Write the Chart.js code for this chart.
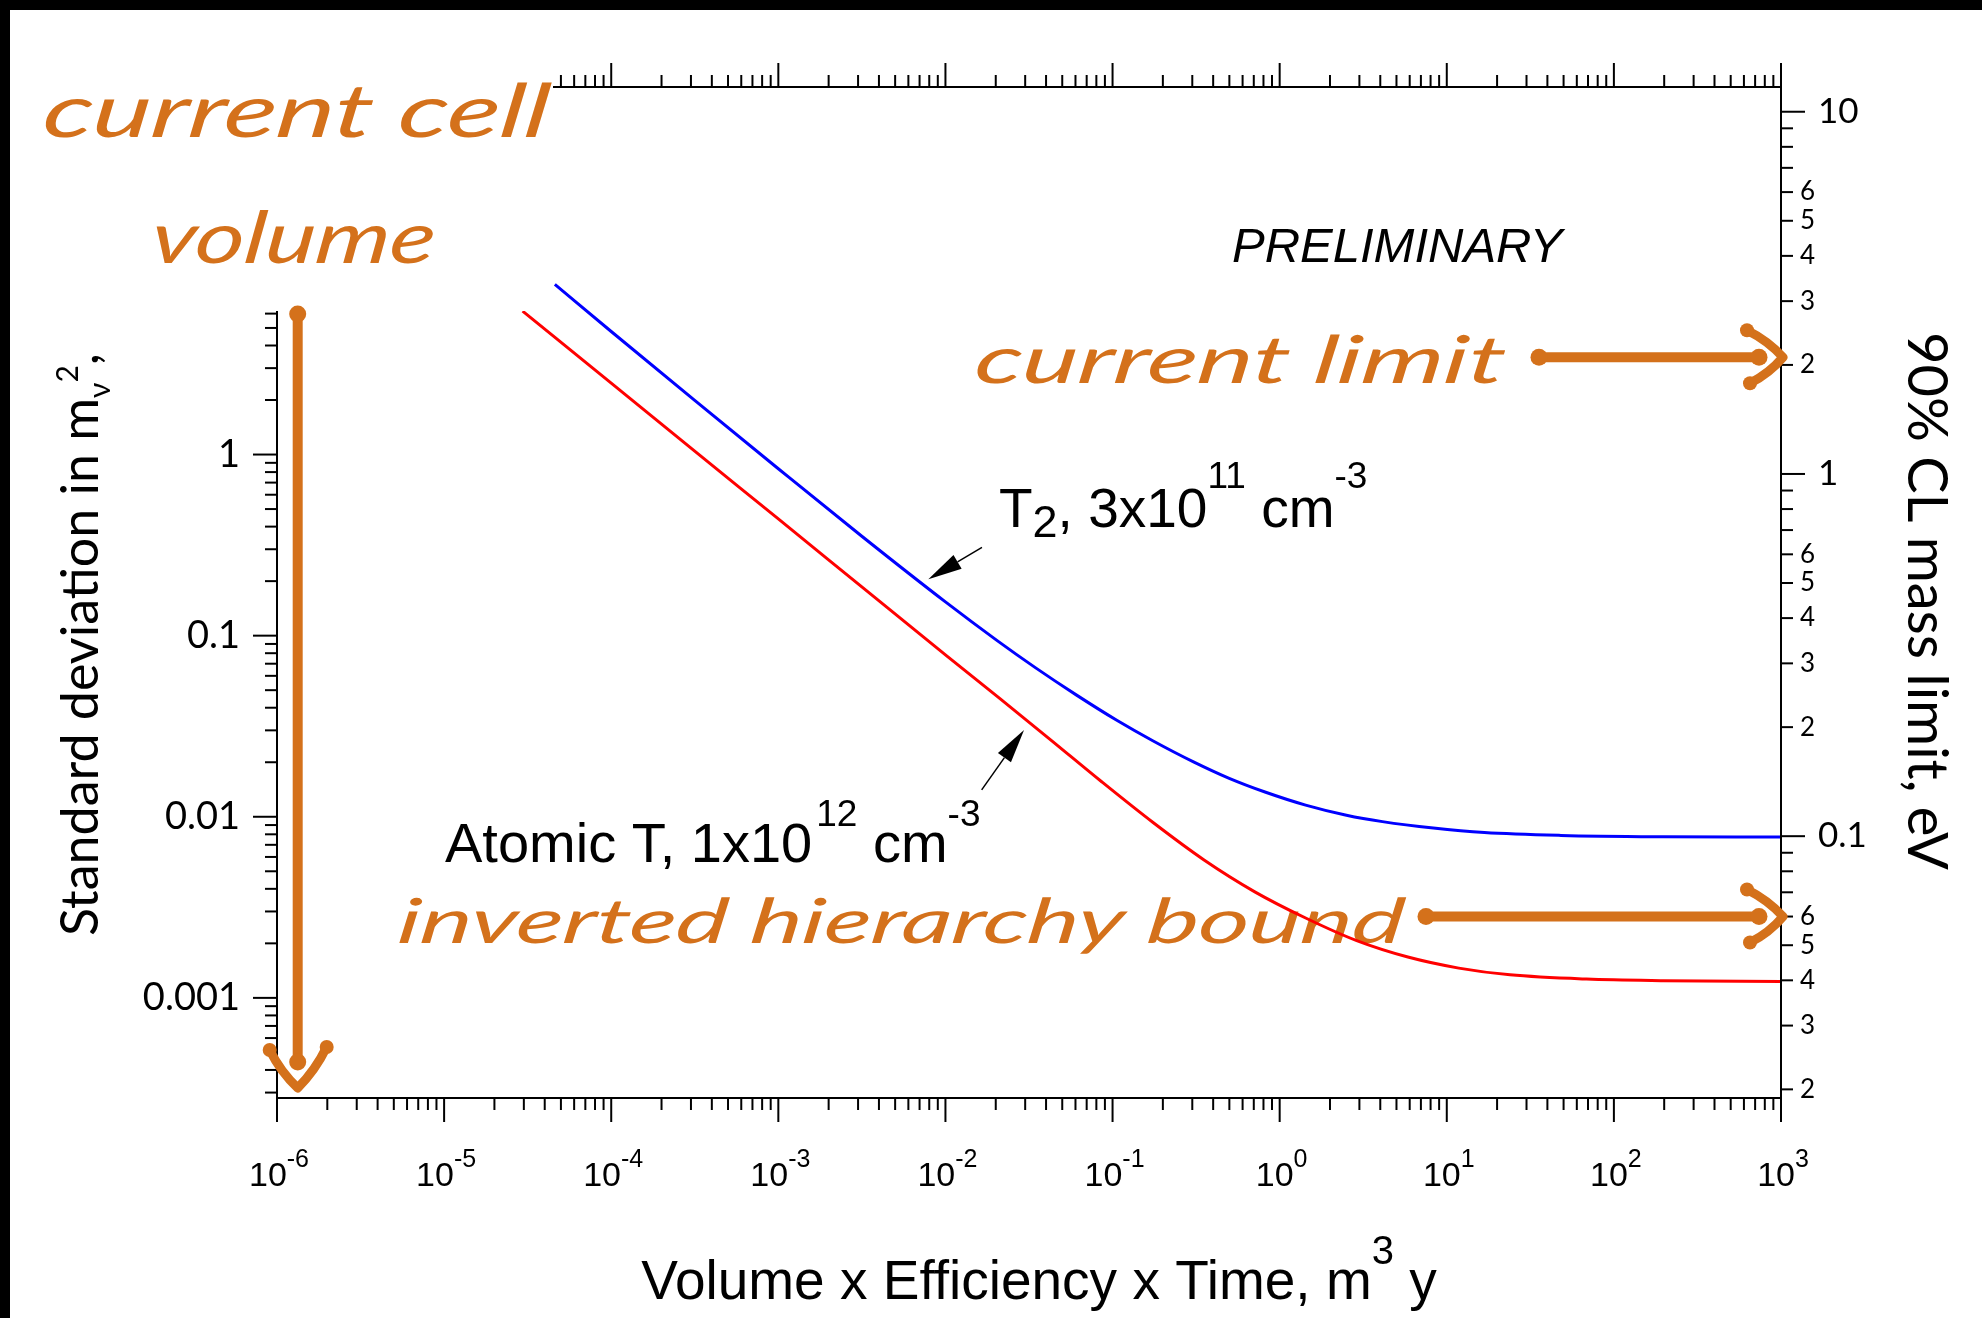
<!DOCTYPE html>
<html>
<head>
<meta charset="utf-8">
<title>Neutrino mass sensitivity vs exposure</title>
<script src="https://cdn.jsdelivr.net/npm/chart.js@4.4.1/dist/chart.umd.min.js"></script>
<style>
  html, body { margin: 0; padding: 0; background: #000; overflow: hidden; }
  #wrap { position: absolute; left: 10px; top: 10px; width: 1972px; height: 1308px; background: #fff; }
</style>
</head>
<body>
<div id="wrap"><canvas id="chart" width="1972" height="1308"></canvas></div>
<script>
// exposure (m^3 y) and standard deviation in m_nu^2 for the two source types
const t2Exposure = [4.6e-5, 1e-4, 3.16e-4, 1e-3, 3.16e-3, 0.01, 0.0204, 0.0345, 0.0606, 0.106, 0.174,
                    0.305, 0.499, 0.817, 1.43, 2.51, 4.12, 8.31, 16.8, 48.2, 197, 1000];
const t2Sigma = [8.7, 4.78, 1.99, 0.835, 0.354, 0.1536, 0.0939, 0.0666, 0.0471, 0.0341, 0.0263,
                 0.0201, 0.0163, 0.0137, 0.0116, 0.0102, 0.0094, 0.00866, 0.00818, 0.00789, 0.00776, 0.00773];

const atomicExposure = [2.95e-5, 1e-4, 3.16e-4, 1e-3, 3.16e-3, 0.01, 0.0212, 0.0426, 0.0861, 0.174,
                        0.351, 0.710, 1.43, 2.89, 5.85, 11.8, 23.9, 68.5, 197, 1000];
const atomicSigma = [6.19, 2.48, 1.045, 0.441, 0.186, 0.0784, 0.0449, 0.0266, 0.0156, 0.00932,
                     0.00579, 0.00385, 0.00276, 0.00207, 0.00168, 0.00146, 0.00134, 0.00127, 0.001245, 0.00123];

// axis ranges
const exposureRange = [1e-6, 1e3];
const sigmaRange = [2.8e-4, 107];
const clFactor = 1.28;                // 90% CL: m^2 < 1.28 sigma
const massRange = sigmaRange.map(s => Math.sqrt(clFactor * s));

// tick labels
const exposureDecades = [-6, -5, -4, -3, -2, -1, 0, 1, 2, 3];
const sigmaTicks = [1, 0.1, 0.01, 0.001];
const sigmaTickLabels = ['1', '0.1', '0.01', '0.001'];
const massTicks = [10, 1, 0.1];
const massTickLabels = ['10', '1', '0.1'];
const massMinorLabelled = [2, 3, 4, 5, 6];

// hand-drawn notes (eV on the right axis, m^3 y on the bottom axis)
const currentLimit = 2.1;
const invertedBound = 0.06;
const cellVolume = 1.33e-6;

const orange = '#d4711b';
const MAJOR = 24, MINOR = 12;

function logTicks(min, max) {
  const out = [];
  for (let e = Math.floor(Math.log10(min)); e <= Math.ceil(Math.log10(max)); e++) {
    for (let m = 1; m <= 9; m++) {
      const v = m * Math.pow(10, e);
      if (v >= min * 0.9999 && v <= max * 1.0001) out.push({ v, m });
    }
  }
  return out;
}

// draw [text, font, dy] pieces one after another
function runsWidth(ctx, runs) {
  let w = 0;
  for (const [t, f] of runs) { ctx.font = f; w += ctx.measureText(t).width; }
  return w;
}
function drawRuns(ctx, runs, x, y) {
  ctx.textAlign = 'left';
  ctx.textBaseline = 'alphabetic';
  for (const [t, f, dy] of runs) {
    ctx.font = f;
    ctx.fillText(t, x, y + (dy || 0));
    x += ctx.measureText(t).width;
  }
  return x;
}

// slanted marker-pen text squeezed to a given width
function handText(ctx, text, x, y, size, width) {
  ctx.save();
  ctx.font = `italic 400 ${size}px Lato`;
  const w = ctx.measureText(text).width;
  ctx.translate(x, y);
  ctx.transform(1, 0, -0.12, 1, 0, 0);
  ctx.scale(width / w, 1);
  ctx.fillStyle = orange;
  ctx.textAlign = 'left';
  ctx.textBaseline = 'alphabetic';
  ctx.fillText(text, 0, 0);
  ctx.restore();
}

function blob(ctx, x, y, r) {
  ctx.beginPath();
  ctx.arc(x, y, r, 0, Math.PI * 2);
  ctx.fill();
}

// thick marker arrow; dir = 'right' or 'down'
function handArrow(ctx, x0, y0, tx, ty, dir) {
  ctx.save();
  ctx.strokeStyle = orange;
  ctx.fillStyle = orange;
  ctx.lineCap = 'round';
  ctx.lineJoin = 'round';
  ctx.lineWidth = 10;
  let ex, ey, arms;
  if (dir === 'right') {
    ex = tx - 24; ey = ty;
    arms = [[tx - 36, ty - 27], [tx - 33, ty + 26]];
  } else {
    ex = tx; ey = ty - 26;
    arms = [[tx - 28, ty - 38], [tx + 29, ty - 41]];
  }
  ctx.beginPath();
  ctx.moveTo(x0, y0);
  ctx.lineTo(ex, ey);
  ctx.stroke();
  blob(ctx, x0, y0, 8.5);
  blob(ctx, ex, ey, 8.5);
  ctx.lineWidth = 9;
  const bend = dir === 'right' ? [3, -3] : [-3, 3];
  ctx.beginPath();
  ctx.moveTo(arms[0][0], arms[0][1]);
  ctx.quadraticCurveTo((arms[0][0] + tx) / 2 + bend[0], (arms[0][1] + ty) / 2 + bend[1], tx, ty);
  ctx.quadraticCurveTo((arms[1][0] + tx) / 2 + 3, (arms[1][1] + ty) / 2 + 3, arms[1][0], arms[1][1]);
  ctx.stroke();
  blob(ctx, arms[0][0], arms[0][1], 7);
  blob(ctx, arms[1][0], arms[1][1], 7);
  ctx.restore();
}

function pointer(ctx, x0, y0, x1, y1) {
  const ang = Math.atan2(y1 - y0, x1 - x0);
  const L = 34, W = 8;
  const bx = x1 - L * Math.cos(ang), by = y1 - L * Math.sin(ang);
  ctx.beginPath();
  ctx.moveTo(x0, y0);
  ctx.lineTo(bx, by);
  ctx.lineWidth = 1.5;
  ctx.stroke();
  ctx.beginPath();
  ctx.moveTo(x1, y1);
  ctx.lineTo(bx + W * Math.sin(ang), by - W * Math.cos(ang));
  ctx.lineTo(bx - W * Math.sin(ang), by + W * Math.cos(ang));
  ctx.closePath();
  ctx.fill();
}

const figurePlugin = {
  id: 'figure',
  beforeDatasetsDraw(chart) {
    const ctx = chart.ctx;
    handText(ctx, 'current limit', 963, 373, 66, 530);
    handText(ctx, 'inverted hierarchy bound', 386, 933, 62, 1006);
  },
  afterDatasetsDraw(chart) {
    const { ctx, chartArea: a, scales } = chart;
    const x = scales.x, xt = scales.xTop, y = scales.y, m = scales.mass;
    ctx.save();
    ctx.strokeStyle = '#000';
    ctx.fillStyle = '#000';
    ctx.lineWidth = 2;

    // frame
    ctx.strokeRect(a.left, a.top, a.right - a.left, a.bottom - a.top);

    // outward tick marks
    for (const t of logTicks(x.min, x.max)) {
      const p = x.getPixelForValue(t.v), len = t.m === 1 ? MAJOR : MINOR;
      ctx.beginPath(); ctx.moveTo(p, a.bottom); ctx.lineTo(p, a.bottom + len); ctx.stroke();
      const q = xt.getPixelForValue(t.v);
      ctx.beginPath(); ctx.moveTo(q, a.top); ctx.lineTo(q, a.top - len); ctx.stroke();
    }
    for (const t of logTicks(y.min, y.max)) {
      const p = y.getPixelForValue(t.v), len = t.m === 1 ? MAJOR : MINOR;
      ctx.beginPath(); ctx.moveTo(a.left, p); ctx.lineTo(a.left - len, p); ctx.stroke();
    }
    for (const t of logTicks(m.min, m.max)) {
      const p = m.getPixelForValue(t.v), len = t.m === 1 ? MAJOR : MINOR;
      ctx.beginPath(); ctx.moveTo(a.right, p); ctx.lineTo(a.right + len, p); ctx.stroke();
      if (massMinorLabelled.includes(t.m)) {
        ctx.font = '26px Lato';
        ctx.textAlign = 'left';
        ctx.textBaseline = 'middle';
        ctx.fillText(String(t.m), a.right + 19, p);
      }
    }

    // bottom tick labels 10^n
    for (const e of exposureDecades) {
      const p = x.getPixelForValue(Math.pow(10, e));
      const runs = [['10', '34px "Liberation Sans"', 0], [String(e), '25px "Liberation Sans"', -19]];
      drawRuns(ctx, runs, p - runsWidth(ctx, runs) / 2 + 2, 1176);
    }
    // left tick labels
    ctx.font = '38px Lato';
    ctx.textAlign = 'right';
    ctx.textBaseline = 'middle';
    sigmaTicks.forEach((v, i) => ctx.fillText(sigmaTickLabels[i], a.left - 37, y.getPixelForValue(v)));
    // right tick labels
    ctx.font = '35px Lato';
    ctx.textAlign = 'left';
    massTicks.forEach((v, i) => ctx.fillText(massTickLabels[i], a.right + 37, m.getPixelForValue(v)));

    // axis titles
    const xTitle = [['Volume x Efficiency x Time, m', '55px "Liberation Sans"', 0],
                    ['3', '40px "Liberation Sans"', -35],
                    [' y', '55px "Liberation Sans"', 0]];
    drawRuns(ctx, xTitle, (a.left + a.right) / 2 + 10 - runsWidth(ctx, xTitle) / 2, 1289);

    ctx.save();
    ctx.translate(88, 926);
    ctx.rotate(-Math.PI / 2);
    drawRuns(ctx, [['Standard deviation in m', '52px Lato', 0],
                   ['\u03bd', '30px Lato', 12],
                   ['2', '30px Lato', -20],
                   [',', '52px Lato', 0]], 0, 0);
    ctx.restore();

    ctx.save();
    ctx.translate(1898, 591);
    ctx.rotate(Math.PI / 2);
    ctx.font = '56px Lato';
    ctx.textAlign = 'center';
    ctx.textBaseline = 'alphabetic';
    ctx.fillText('90% CL mass limit, eV', 0, 0);
    ctx.restore();

    // in-plot labels
    ctx.font = 'italic 49px "Liberation Sans"';
    ctx.textAlign = 'left';
    ctx.textBaseline = 'alphabetic';
    ctx.fillText('PRELIMINARY', 1222, 252);

    const big = '55px "Liberation Sans"', sup = '37px "Liberation Sans"', sub = '45px "Liberation Sans"';
    drawRuns(ctx, [['T', big, 0], ['2', sub, 10], [', 3x10', big, 0], ['11', sup, -39],
                   [' cm', big, 0], ['-3', sup, -39]], 989, 517);
    const big2 = '56px "Liberation Sans"';
    const end = drawRuns(ctx, [['Atomic T, 1x10', big2, 0]], 435, 852);
    drawRuns(ctx, [['12', sup, -36], [' cm', big2, 0], ['-3', sup, -36]], end + 4, 852);

    pointer(ctx, x.getPixelForValue(0.01654), y.getPixelForValue(0.3075),
                 x.getPixelForValue(0.0079), y.getPixelForValue(0.205));
    pointer(ctx, x.getPixelForValue(0.01647), y.getPixelForValue(0.01407),
                 x.getPixelForValue(0.02954), y.getPixelForValue(0.03017));

    // note box over the top-left corner of the frame
    ctx.fillStyle = '#fff';
    ctx.fillRect(0, 0, 543, 301);
    handText(ctx, 'current cell', 31, 127, 74, 506);
    handText(ctx, 'volume', 139, 253, 72, 284);

    // marker arrows
    const tipX = a.right + 2;
    handArrow(ctx, tipX - 244, m.getPixelForValue(currentLimit), tipX, m.getPixelForValue(currentLimit), 'right');
    handArrow(ctx, tipX - 357, m.getPixelForValue(invertedBound), tipX, m.getPixelForValue(invertedBound), 'right');
    const vx = x.getPixelForValue(cellVolume);
    handArrow(ctx, vx, 304, vx, 1078, 'down');
    ctx.restore();
  }
};

new Chart(document.getElementById('chart'), {
  type: 'line',
  data: {
    datasets: [
      {
        label: 'T2, 3x10^11 cm^-3',
        data: t2Exposure.map((v, i) => ({ x: v, y: t2Sigma[i] })),
        borderColor: '#0000ff',
        borderWidth: 3,
        pointRadius: 0,
        cubicInterpolationMode: 'monotone',
        xAxisID: 'x', yAxisID: 'y'
      },
      {
        label: 'Atomic T, 1x10^12 cm^-3',
        data: atomicExposure.map((v, i) => ({ x: v, y: atomicSigma[i] })),
        borderColor: '#ff0000',
        borderWidth: 3,
        pointRadius: 0,
        cubicInterpolationMode: 'monotone',
        xAxisID: 'x', yAxisID: 'y'
      }
    ]
  },
  options: {
    responsive: false,
    animation: false,
    layout: { padding: { left: 267, top: 77, right: 201, bottom: 220 } },
    plugins: { legend: { display: false }, tooltip: { enabled: false } },
    scales: {
      x: { type: 'logarithmic', position: 'bottom', min: exposureRange[0], max: exposureRange[1], display: false },
      xTop: { type: 'logarithmic', position: 'top', min: exposureRange[0], max: exposureRange[1], display: false },
      y: { type: 'logarithmic', position: 'left', min: sigmaRange[0], max: sigmaRange[1], display: false },
      mass: { type: 'logarithmic', position: 'right', min: massRange[0], max: massRange[1], display: false }
    }
  },
  plugins: [figurePlugin]
});
</script>
</body>
</html>
